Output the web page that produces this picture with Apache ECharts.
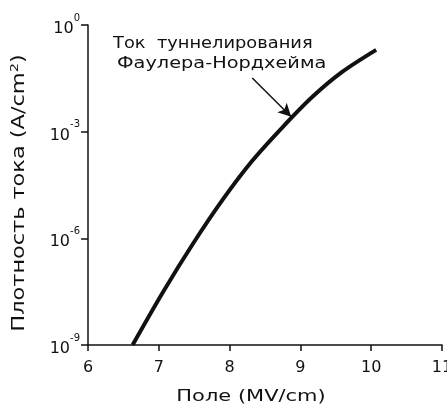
<!DOCTYPE html>
<html>
<head>
<meta charset="utf-8">
<script src="https://cdn.jsdelivr.net/npm/echarts@6/dist/echarts.min.js"></script>
<style>html,body{margin:0;padding:0;background:#fff}#c{width:447px;height:410px}</style>
</head>
<body>
<div id="c"></div>
<script>
// Data
const fieldMVcm = [6.63, 7.06, 7.48, 7.90, 8.32, 8.75, 9.17, 9.59, 10.07];
const logCurrent = [-9.00, -7.51, -6.16, -4.92, -3.82, -2.87, -2.02, -1.32, -0.70];
const xTicks = [6, 7, 8, 9, 10, 11];
const yTickExponents = [0, -3, -6, -9];
const xAxisTitle = 'Поле (MV/cm)';
const yAxisTitle = 'Плотность тока (A/cm{s|2})';
const annotationLines = ['Ток  туннелирования', 'Фаулера-Нордхейма'];
const arrowFrom = [8.32, -1.49];
const arrowTo = [8.87, -2.58];

const font = 'DejaVu Sans';
const ink = '#111';
const seriesData = fieldMVcm.map((x, i) => [x, Math.pow(10, logCurrent[i])]);

const chart = echarts.init(document.getElementById('c'));
chart.setOption({
  animation: false,
  backgroundColor: '#fff',
  grid: { left: 88, right: 5, top: 25, bottom: 65, outerBoundsMode: 'none', containLabel: false },
  xAxis: {
    type: 'value', min: 6, max: 11, interval: 1,
    axisLine: { lineStyle: { color: ink, width: 1.5 } },
    axisTick: { length: 6, lineStyle: { color: ink, width: 1.5 } },
    axisLabel: {
      fontFamily: font, fontSize: 16, color: ink, margin: 15,
      formatter: v => xTicks.includes(v) ? String(v) : ''
    },
    splitLine: { show: false }
  },
  yAxis: {
    type: 'log', logBase: 10, min: 1e-9, max: 1, interval: 3,
    axisLine: { show: true, lineStyle: { color: ink, width: 1.5 } },
    axisTick: { show: true, length: 7, lineStyle: { color: ink, width: 1.5 } },
    axisLabel: {
      margin: 8,
      formatter: function (v) {
        const e = Math.round(Math.log10(v));
        return yTickExponents.includes(e) ? '{b|10}{e|' + e + '}' : '';
      },
      rich: {
        b: { fontFamily: font, fontSize: 16, color: ink, verticalAlign: 'bottom', lineHeight: 18 },
        e: { fontFamily: font, fontSize: 10, color: ink, verticalAlign: 'top', lineHeight: 24 }
      }
    },
    splitLine: { show: false }
  },
  series: [{
    type: 'line', data: seriesData, smooth: 0.3, showSymbol: false,
    lineStyle: { color: ink, width: 4 },
    markLine: {
      silent: true, symbol: ['none', 'arrow'], symbolSize: [10, 13],
      label: { show: false },
      lineStyle: { color: ink, width: 1.5, type: 'solid' },
      data: [[
        { coord: [arrowFrom[0], Math.pow(10, arrowFrom[1])] },
        { coord: [arrowTo[0], Math.pow(10, arrowTo[1])] }
      ]]
    }
  }],
  graphic: [
    { type: 'text', x: 113, y: 35, scaleX: 1.08,
      style: { text: annotationLines[0], font: '16.5px ' + font, fill: ink } },
    { type: 'text', x: 117, y: 55, scaleX: 1.17,
      style: { text: annotationLines[1], font: '16.5px ' + font, fill: ink } },
    { type: 'text', x: 251, y: 397, scaleX: 1.31,
      style: { text: xAxisTitle, font: '16px ' + font, fill: ink, align: 'center', verticalAlign: 'middle' } },
    { type: 'text', x: 20, y: 193, rotation: Math.PI / 2, scaleX: 1.32,
      style: { text: yAxisTitle, font: '17px ' + font, fill: ink, align: 'center', verticalAlign: 'middle',
        rich: { s: { font: '11px ' + font, fill: ink, verticalAlign: 'top', padding: [0, 0, 9, 0] } } } }
  ]
});
</script>
</body>
</html>
